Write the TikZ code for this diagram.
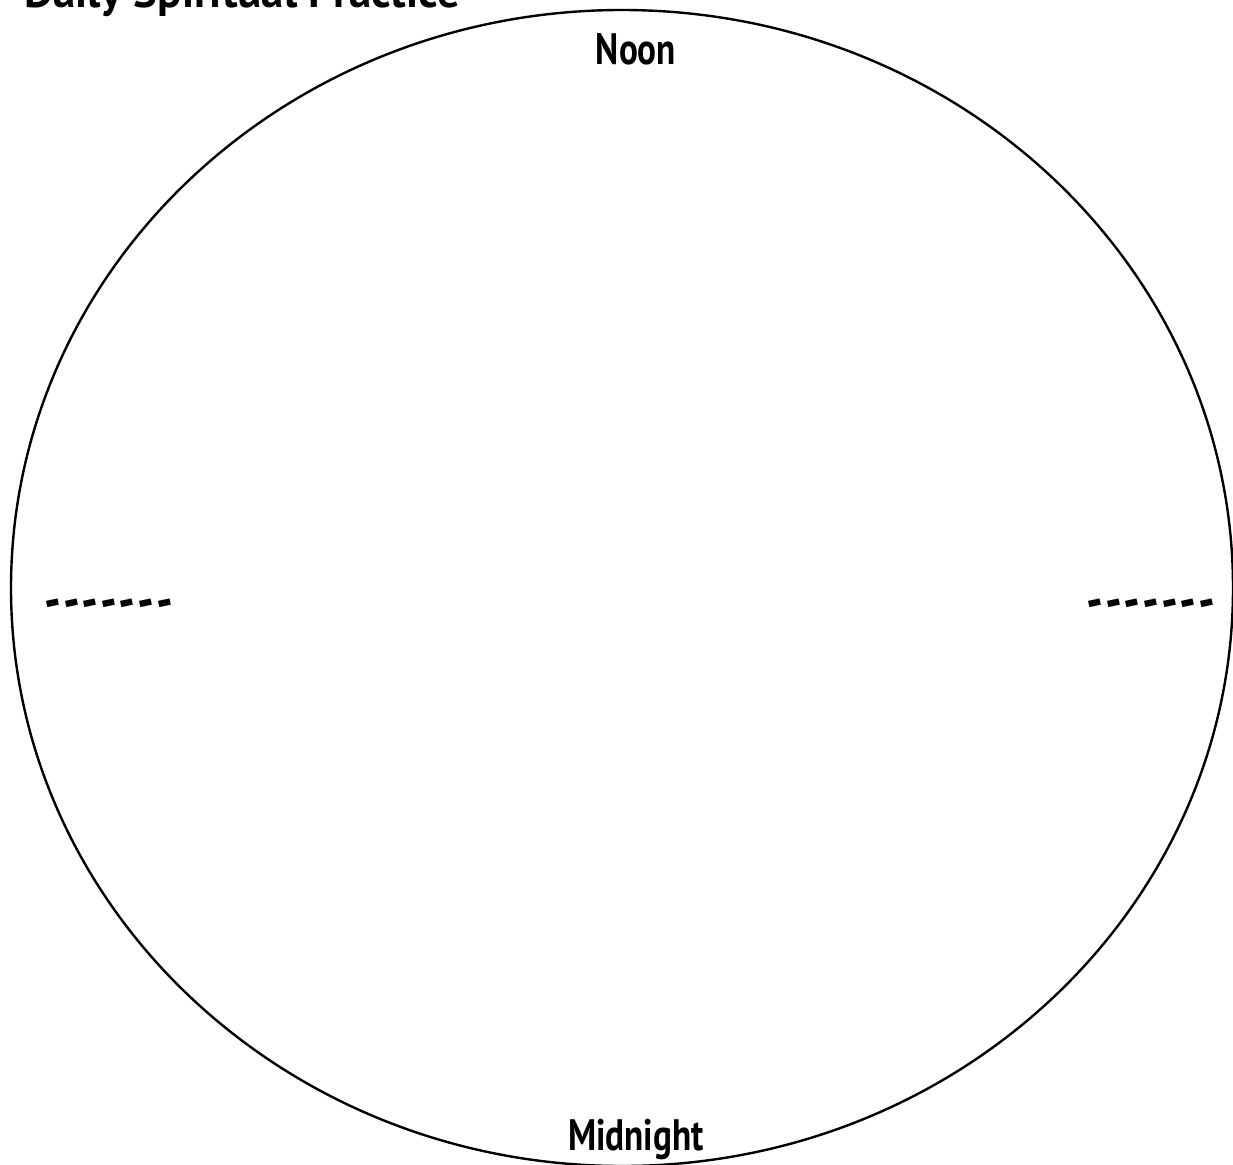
\documentclass[tikz,border=0pt]{standalone}
\usepackage{fontspec}
\newfontfamily\titlefont{PT Sans Bold}
\newfontfamily\lblfont{PT Sans Bold}[FakeStretch=0.8]
\newfontfamily\dshfont{DejaVu Sans Bold}
\newcommand{\onedash}{\rotatebox[origin=c]{12}{\scalebox{1}[1.7]{\textendash}}}
\newcommand{\dashrow}{\onedash\kern0.3pt\onedash\kern0.3pt\onedash\kern0.3pt\onedash\kern0.3pt\onedash\kern0.3pt\onedash\kern0.3pt\onedash}
\begin{document}
\begin{tikzpicture}[x=1pt,y=-1pt,
  lbl/.style={font=\lblfont\fontsize{44}{48}\selectfont, inner sep=0pt},
  ttl/.style={font=\titlefont\fontsize{45}{48}\selectfont, inner sep=0pt},
  dsh/.style={font=\dshfont\fontsize{30}{36}\selectfont, inner sep=0pt}]
\useasboundingbox (0,0) rectangle (1233,1164);
\fill[white] (0,0) rectangle (1233,1164);
\draw[line width=2.4pt] (622,588) ellipse [x radius=611pt, y radius=578pt];
\node[ttl, anchor=base west] (title) at (24,8) {Daily Spiritual Practice};
\node[lbl, anchor=base] (noon) at (636,64) {Noon};
\node[lbl, anchor=base] (midnight) at (636,1150) {Midnight};
\node[dsh, anchor=center] (left) at (110,609) {\dashrow};
\node[dsh, anchor=center] (right) at (1152,609) {\dashrow};
\end{tikzpicture}
\end{document}
